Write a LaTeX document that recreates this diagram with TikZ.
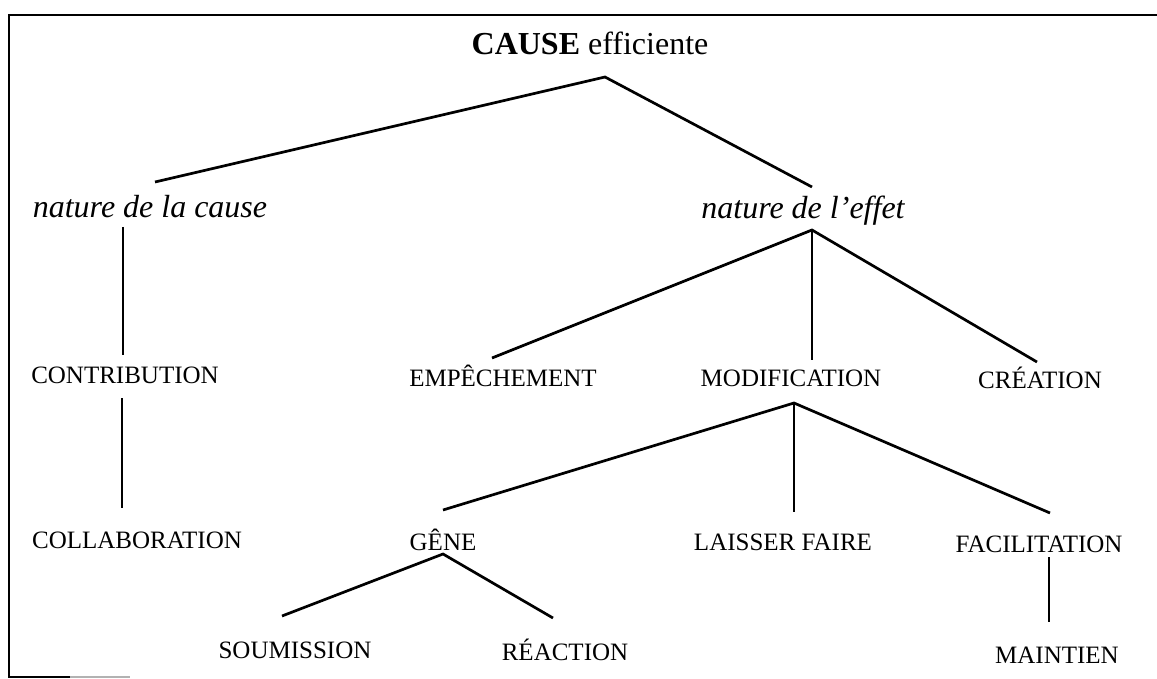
\documentclass[tikz,border=0pt]{standalone}
\usepackage{fontspec}
\setmainfont{Liberation Serif}
\begin{document}
\begin{tikzpicture}[x=1pt,y=-1pt,
  title/.style={inner sep=0pt, anchor=base, font=\fontsize{32}{38}\selectfont},
  head/.style={inner sep=0pt, anchor=base, font=\fontsize{32}{38}\selectfont\itshape},
  lbl/.style={inner sep=0pt, anchor=base, font=\fontsize{25}{30}\selectfont},
  link/.style={line width=2.7pt},
  frame/.style={line width=2.7pt}]
\useasboundingbox (0,0) rectangle (1157,679);

% open frame
\draw[frame] (1157,15) -- (9,15) -- (9,677) -- (70,677);
\draw[line width=1.4pt, black!30] (70,677) -- (130,677);

% labels
\node[title] (cause) at (590,55) {\textbf{CAUSE} efficiente};
\node[head] (ndc) at (150,218) {nature de la cause};
\node[head] (nde) at (803,219) {nature de l’effet};
\node[lbl] (contrib) at (125,383) {CONTRIBUTION};
\node[lbl] (collab) at (137,548) {COLLABORATION};
\node[lbl] (emp) at (503,386) {EMPÊCHEMENT};
\node[lbl] (modif) at (791,386) {MODIFICATION};
\node[lbl] (creation) at (1040,388) {CRÉATION};
\node[lbl] (gene) at (443,550) {GÊNE};
\node[lbl] (laisser) at (783,550) {LAISSER FAIRE};
\node[lbl] (facil) at (1039,552) {FACILITATION};
\node[lbl] (soum) at (295,658) {SOUMISSION};
\node[lbl] (react) at (565,660) {RÉACTION};
\node[lbl] (maint) at (1057,663) {MAINTIEN};

% branches
\draw[link] ([shift={(5,-36)}]ndc.base) -- ([shift={(15,22)}]cause.base) -- ([shift={(9,-32)}]nde.base);
\draw[link] ([shift={(-27,9)}]ndc.base) -- ([shift={(-2,-28)}]contrib.base);
\draw[link] ([shift={(-3,15)}]contrib.base) -- ([shift={(-15,-40)}]collab.base);
\draw[link] ([shift={(-11,-28)}]emp.base) -- ([shift={(9,11)}]nde.base) -- ([shift={(-3,-26)}]creation.base);
\draw[link] ([shift={(9,11)}]nde.base) -- ([shift={(21,-26)}]modif.base);
\draw[link] ([shift={(0,-40)}]gene.base) -- ([shift={(3,17)}]modif.base) -- ([shift={(11,-39)}]facil.base);
\draw[link] ([shift={(3,17)}]modif.base) -- ([shift={(11,-38)}]laisser.base);
\draw[link] ([shift={(-13,-42)}]soum.base) -- ([shift={(0,4)}]gene.base) -- ([shift={(-12,-42)}]react.base);
\draw[link] ([shift={(10,5)}]facil.base) -- ([shift={(-8,-41)}]maint.base);
\end{tikzpicture}
\end{document}
